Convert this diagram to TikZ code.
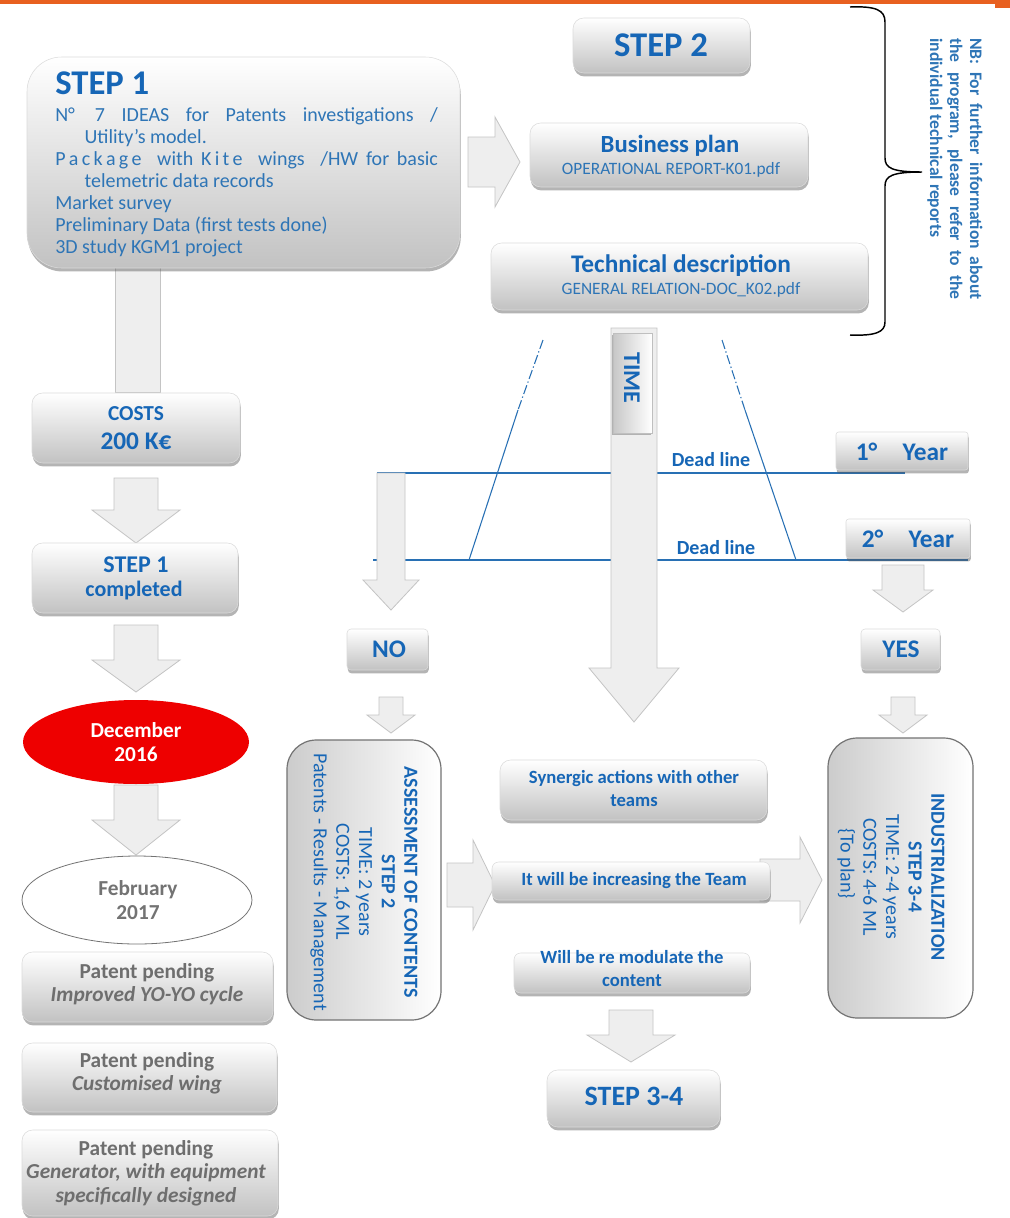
\documentclass[tikz,border=0pt]{standalone}
\usepackage{fontspec}
\setmainfont{Carlito}
\usetikzlibrary{shadows,fit,shapes.geometric}
\definecolor{tblue}{RGB}{22,102,182}
\definecolor{bblue}{RGB}{46,117,182}
\definecolor{lblue}{RGB}{40,112,180}
\definecolor{pgray}{RGB}{110,110,110}
\definecolor{arrfill}{RGB}{238,238,238}
\definecolor{arrdraw}{RGB}{196,196,196}
\definecolor{topline}{RGB}{232,96,32}
\definecolor{decred}{RGB}{238,0,0}
\tikzset{
 gbox/.style={draw=black!14, top color=white, bottom color=black!24, rounded corners=8pt, inner sep=0pt,
   drop shadow={shadow xshift=0.6pt, shadow yshift=-2.6pt, opacity=0.45, fill=black!65}},
 vbox/.style={draw=black!55, left color=black!20, right color=white, rounded corners=22pt, inner sep=0pt, line width=0.9pt},
 blk/.style={fill=arrfill, draw=arrdraw, line width=0.6pt},
 dl/.style={draw=lblue, line width=1.1pt},
 tx/.style={inner sep=0pt, text=tblue, align=center},
 gx/.style={inner sep=0pt, text=pgray, align=center},
}
\newcommand{\darr}[6]{% cx ytop yneck ytip sw hw
 \draw[blk] ({#1-#5},#2) -- ({#1+#5},#2) -- ({#1+#5},#3) -- ({#1+#6},#3) -- (#1,#4) -- ({#1-#6},#3) -- ({#1-#5},#3) -- cycle;}
\newcommand{\rarr}[6]{% cy xleft xneck xtip sw hw
 \draw[blk] (#2,{#1-#5}) -- (#3,{#1-#5}) -- (#3,{#1-#6}) -- (#4,#1) -- (#3,{#1+#6}) -- (#3,{#1+#5}) -- (#2,{#1+#5}) -- cycle;}
\begin{document}
\begin{tikzpicture}[x=0.75pt,y=-0.75pt]
\useasboundingbox (0,0) rectangle (1010,1218);
\fill[white] (0,0) rectangle (1010,1218);
\fill[topline] (0,0) rectangle (1010,4);
\fill[topline] (995,4) rectangle (1010,8);

% ---------- left column ----------
\draw[blk] (115,262) rectangle (160,392);
\node[gbox, rounded corners=26pt, fit={(27,57)(460,268)}] (step1) {};
\node[tx, anchor=west, font=\fontsize{26}{30}\selectfont\bfseries] (step1t) at (55,83) {STEP 1};
\node[anchor=north west, inner sep=0pt, text=bblue, text width=287pt, align=justify,
      font=\fontsize{15}{16.5}\selectfont] (step1b) at (55,107) {%
 {\hangindent=22pt\hangafter=1 N°\quad 7 IDEAS for Patents investigations /\linebreak Utility's model.\par}
 {\hangindent=22pt\hangafter=1 P\,a\,c\,k\,a\,g\,e \ with K\,i\,t\,e \ wings \ /HW for basic\linebreak telemetric data records\par}
 Market survey\par
 Preliminary Data (first tests done)\par
 3D study KGM1 project\par};

\node[gbox, fit={(32,393)(240,463)}] (costs) {};
\node[tx, font=\fontsize{16}{18}\selectfont\bfseries] (costs1) at (136,414) {COSTS};
\node[tx, font=\fontsize{19}{21}\selectfont\bfseries] (costs2) at (136,441) {200 K€};

\darr{136}{478}{510}{543}{22}{44}
\node[gbox, fit={(32,543)(238,613)}] (s1c) {};
\node[tx, font=\fontsize{18}{20}\selectfont\bfseries] (s1c1) at (136,565) {STEP 1};
\node[tx, font=\fontsize{16.5}{18}\selectfont\bfseries] (s1c2) at (134,591) {completed};

\darr{136}{625}{660}{692}{22}{44}
\node[ellipse, fill=decred, minimum width=169.5pt, minimum height=63pt, inner sep=0pt] (dec) at (136,742) {};
\node[inner sep=0pt, text=white, align=center, font=\fontsize{16}{17.5}\selectfont\bfseries] (dect) at (136,742) {December\\2016};

\darr{136}{785}{820}{855}{22}{44}
\node[ellipse, draw=black!55, fill=white, line width=0.6pt, minimum width=172.5pt, minimum height=66pt, inner sep=0pt] (feb) at (137,900) {};
\node[gx, font=\fontsize{16}{17.5}\selectfont\bfseries, text=black!55] (febt) at (138,900) {February\\2017};

\node[gbox, fit={(22,952)(273,1022)}] (pp1) {};
\node[gx, font=\fontsize{16}{17.5}\selectfont\bfseries] (pp1t) at (147,984.5) {Patent pending\\\itshape Improved YO-YO cycle};
\node[gbox, fit={(22,1043)(277,1112)}] (pp2) {};
\node[gx, font=\fontsize{16}{17.5}\selectfont\bfseries] (pp2t) at (147,1073.5) {Patent pending\\\itshape Customised wing};
\node[gbox, fit={(22,1130)(278,1216)}] (pp3) {};
\node[gx, font=\fontsize{16}{17.5}\selectfont\bfseries] (pp3t) at (146,1173) {Patent pending\\\itshape Generator, with equipment\\\itshape specifically designed};

% ---------- top right ----------
\rarr{162}{468}{495}{520}{25}{45}
\node[gbox, fit={(573,18)(750,73)}] (step2) {};
\node[tx, font=\fontsize{26}{30}\selectfont\bfseries] (step2t) at (661,45) {STEP 2};
\node[gbox, fit={(530,123)(808,187)}] (bp) {};
\node[tx, font=\fontsize{18.5}{20}\selectfont\bfseries] (bp1) at (670,146) {Business plan};
\node[tx, text=bblue, font=\fontsize{13}{15}\selectfont] (bp2) at (671,170) {OPERATIONAL REPORT-K01.pdf};
\node[gbox, fit={(491,243)(868,310)}] (td) {};
\node[tx, font=\fontsize{19}{21}\selectfont\bfseries] (td1) at (681,266) {Technical description};
\node[tx, text=bblue, font=\fontsize{13}{15}\selectfont] (td2) at (681,290) {GENERAL RELATION-DOC\_K02.pdf};

\draw[black, line width=1.1pt] (850,7) .. controls (876,6) and (885,10) .. (885,22) -- (885,158)
  .. controls (885,168) and (892,172) .. (922,172)
  .. controls (892,172) and (885,176) .. (885,186) -- (885,322)
  .. controls (885,332) and (876,336) .. (850,335);
\node[rotate=-90, inner sep=0pt, text=bblue, text width=196pt, align=justify,
      font=\fontsize{13.2}{15}\selectfont\bfseries] (nb) at (955,169)
 {NB:\ For further information about\linebreak the program, please refer to the\linebreak individual technical reports};

% ---------- time area ----------
\draw[dl] (377,473) -- (611,473);
\draw[dl] (657,473) -- (905,473);
\draw[dl] (373,560) -- (611,560);
\draw[dl] (657,560) -- (968,560);
\draw[dl, line width=0.8pt, dash pattern=on 7pt off 2pt on 1pt off 2pt] (543,340) -- (518,410);
\draw[dl, line width=0.8pt] (518,410) -- (469,560);
\draw[dl, line width=0.8pt, dash pattern=on 7pt off 2pt on 1pt off 2pt] (722,340) -- (745,410);
\draw[dl, line width=0.8pt] (745,410) -- (796,560);

\darr{634}{328}{668}{722}{23}{45}
\node[draw=black!25, left color=black!22, right color=white, inner sep=0pt, fit={(613,333)(652,433)},
      drop shadow={shadow xshift=-1pt, shadow yshift=-1.5pt, opacity=0.4, fill=black!65}] (time) {};
\node[tx, rotate=-90, font=\fontsize{18}{20}\selectfont\bfseries] (timet) at (632,378) {TIME};

\node[tx, font=\fontsize{15}{17}\selectfont\bfseries] (dl1) at (711,460) {Dead line};
\node[tx, font=\fontsize{15}{17}\selectfont\bfseries] (dl2) at (716,548) {Dead line};
\node[gbox, rounded corners=2pt, fit={(836,432)(968,470)}] (y1) {};
\node[tx, font=\fontsize{19}{21}\selectfont\bfseries] (y1t) at (902,452) {1°\quad Year};
\node[gbox, rounded corners=2pt, fit={(846,519)(970,558)}] (y2) {};
\node[tx, font=\fontsize{19}{21}\selectfont\bfseries] (y2t) at (908,539) {2°\quad Year};

% NO branch
\darr{391}{473}{580}{610}{14}{28}
\node[gbox, rounded corners=3pt, fit={(347,629)(428,670)}] (no) {};
\node[tx, font=\fontsize{19}{21}\selectfont\bfseries] (not) at (389,649) {NO};
\darr{391}{697}{715}{733}{12}{24}
\node[vbox, fit={(287,740)(441,1020)}] (assess) {};
\node[tx, rotate=-90, font=\fontsize{15}{17}\selectfont] (assesst) at (364,882)
 {{\bfseries ASSESSMENT OF CONTENTS}\\{\bfseries STEP 2}\\TIME: 2 years\\COSTS: 1,6 ML\\Patents - Results - Management};

% YES branch
\darr{903}{565}{590}{612}{21}{30}
\node[gbox, rounded corners=3pt, fit={(861,629)(940,670)}] (yes) {};
\node[tx, font=\fontsize{19}{21}\selectfont\bfseries] (yest) at (901,649) {YES};
\darr{903}{697}{715}{733}{12}{24}
\node[vbox, fit={(828,738)(973,1018)}] (indus) {};
\node[tx, rotate=-90, font=\fontsize{15}{17}\selectfont] (indust) at (891,877)
 {{\bfseries INDUSTRIALIZATION}\\{\bfseries STEP 3-4}\\TIME: 2-4 years\\COSTS: 4-6 ML\\\{To plan\}\hspace*{20pt}};

% middle column
\rarr{885}{447}{473}{495}{22}{45}
\rarr{880}{760}{800}{822}{21}{43}
\node[gbox, fit={(500,760)(767,820)}] (syn) {};
\node[tx, font=\fontsize{14}{17}\selectfont\bfseries] (synt) at (634,788.5) {Synergic actions with other\\teams};
\node[gbox, rounded corners=5pt, fit={(492,862)(770,900)}] (team) {};
\node[tx, font=\fontsize{14}{16}\selectfont\bfseries] (teamt) at (634,881) {It will be increasing the Team};
\node[gbox, rounded corners=5pt, fit={(514,953)(750,993)}] (remod) {};
\node[tx, font=\fontsize{14}{17}\selectfont\bfseries] (remodt) at (632,968.5) {Will be re modulate the\\content};
\darr{631}{1010}{1035}{1062}{22}{44}
\node[gbox, fit={(547,1070)(720,1127)}] (s34) {};
\node[tx, font=\fontsize{21}{23}\selectfont\bfseries] (s34t) at (634,1096) {STEP 3-4};
\end{tikzpicture}
\end{document}
